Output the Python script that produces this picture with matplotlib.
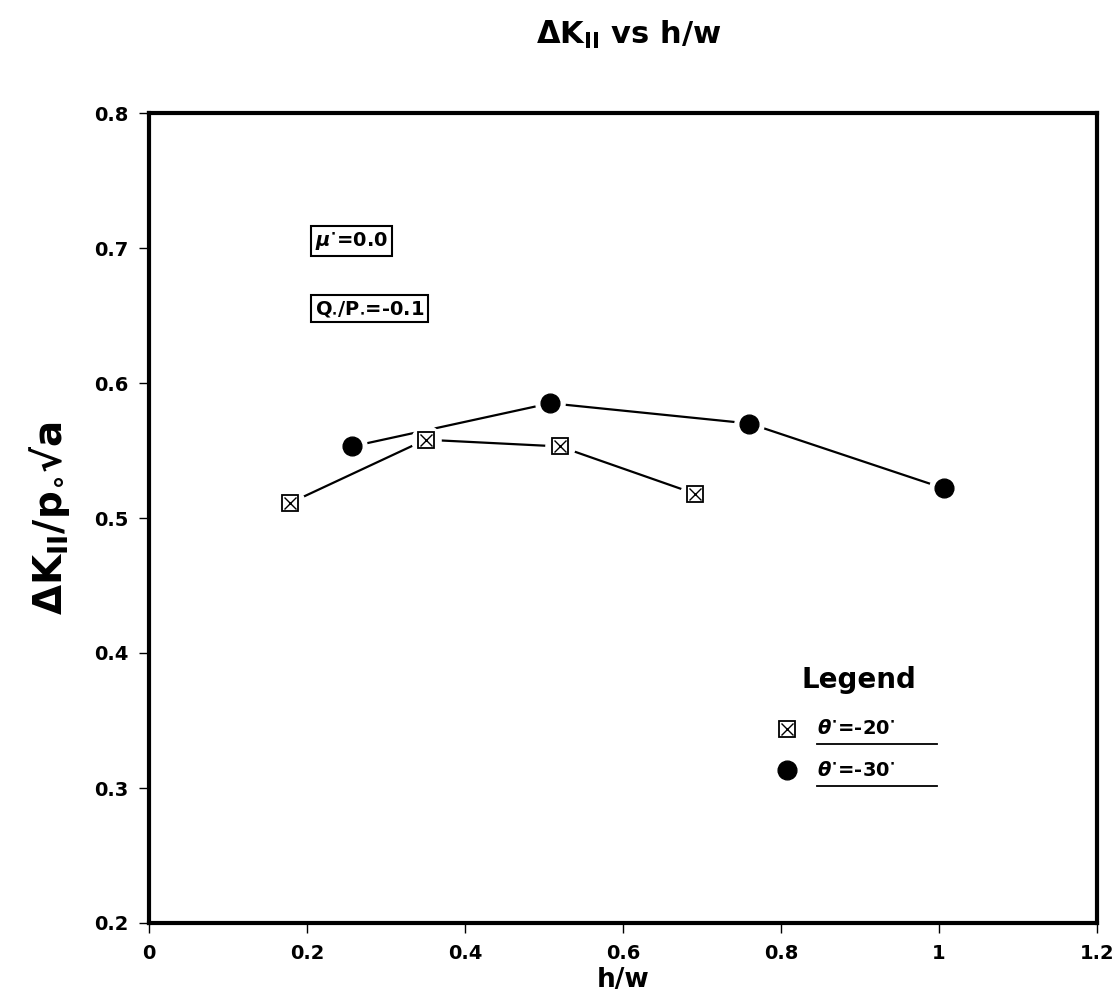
import matplotlib
matplotlib.use("Agg")
import matplotlib.pyplot as plt

# ---- data ----
hw_20 = [0.178, 0.350, 0.520, 0.691]
dk_20 = [0.511, 0.558, 0.553, 0.518]
hw_30 = [0.257, 0.508, 0.760, 1.006]
dk_30 = [0.553, 0.585, 0.570, 0.522]
x_ticks = [0, 0.2, 0.4, 0.6, 0.8, 1.0, 1.2]
x_tick_labels = ["0", "0.2", "0.4", "0.6", "0.8", "1", "1.2"]
y_ticks = [0.2, 0.3, 0.4, 0.5, 0.6, 0.7, 0.8]
y_tick_labels = ["0.2", "0.3", "0.4", "0.5", "0.6", "0.7", "0.8"]
legend_labels = [r"$\theta^{\bullet}$=-20$^{\bullet}$", r"$\theta^{\bullet}$=-30$^{\bullet}$"]

plt.rcParams['font.family'] = ['DejaVu Sans']
plt.rcParams['mathtext.fontset'] = 'custom'
plt.rcParams['mathtext.it'] = 'DejaVu Sans:italic:bold'
plt.rcParams['mathtext.rm'] = 'DejaVu Sans:bold'
plt.rcParams['mathtext.bf'] = 'DejaVu Sans:bold'

W, H = 1117, 1005
fig = plt.figure(figsize=(W / 100, H / 100), dpi=100)
ax = fig.add_axes([149 / W, 1 - 923 / H, (1097 - 149) / W, (923 - 113) / H])

ax.set_xlim(0, 1.2)
ax.set_ylim(0.2, 0.8)

# lines with small gaps around markers
for xs, ys in [(hw_20, dk_20), (hw_30, dk_30)]:
    ax.plot(xs, ys, color='black', lw=1.6, zorder=2)
    ax.plot(xs, ys, ls='none', marker='o', ms=21, mfc='white', mec='white', zorder=3)

ax.plot(hw_20, dk_20, ls='none', marker='s', ms=11, mfc='white', mec='black', mew=1.3, zorder=4)
ax.plot(hw_20, dk_20, ls='none', marker='x', ms=8, mec='black', mew=1.0, zorder=5)
ax.plot(hw_30, dk_30, ls='none', marker='o', ms=13.5, mfc='black', mec='black', zorder=4)

ax.set_xticks(x_ticks)
ax.set_xticklabels(x_tick_labels)
ax.set_yticks(y_ticks)
ax.set_yticklabels(y_tick_labels)
ax.tick_params(direction='out', length=7, width=1, labelsize=14, pad=8)
for lab in ax.get_xticklabels() + ax.get_yticklabels():
    lab.set_fontweight('bold')
for sp in ax.spines.values():
    sp.set_linewidth(3)

ax.set_xlabel("h/w", fontsize=19, fontweight='bold', labelpad=3)
fig.text(50 / W, 1 - 518 / H, r"ΔK$_{\mathrm{II}}$/p$_{\circ}$√a", rotation=90,
         fontsize=28, fontweight='bold', ha='center', va='center')
fig.text(629 / W, 1 - 35 / H, r"ΔK$_{\mathrm{II}}$ vs h/w", fontsize=22,
         fontweight='bold', ha='center', va='center')

# annotation boxes
box = dict(boxstyle='square,pad=0.2', fc='white', ec='black', lw=1.5)
ax.text(0.210, 0.705, r"$\mu^{\bullet}$=0.0", fontsize=14, fontweight='bold',
        va='center', ha='left', bbox=box)
ax.text(0.210, 0.655, r"Q$_{\bullet}$/P$_{\bullet}$=-0.1", fontsize=14, fontweight='bold',
        va='center', ha='left', bbox=box)

# legend drawn manually
ax.text(0.899, 0.380, "Legend", fontsize=20, fontweight='bold', ha='center', va='center')
leg_y = [0.344, 0.313]
leg_mx = 0.807
ax.plot([leg_mx], [leg_y[0]], ls='none', marker='s', ms=11, mfc='white', mec='black', mew=1.3)
ax.plot([leg_mx], [leg_y[0]], ls='none', marker='x', ms=8, mec='black', mew=1.0)
ax.plot([leg_mx], [leg_y[1]], ls='none', marker='o', ms=13.5, mfc='black', mec='black')
for yy, lab in zip(leg_y, legend_labels):
    ax.text(0.845, yy, lab, fontsize=14, fontweight='bold', ha='left', va='center')
    ax.plot([0.845, 0.998], [yy - 0.0115, yy - 0.0115], color='black', lw=1.3)

fig.savefig("out.png", dpi=100)
